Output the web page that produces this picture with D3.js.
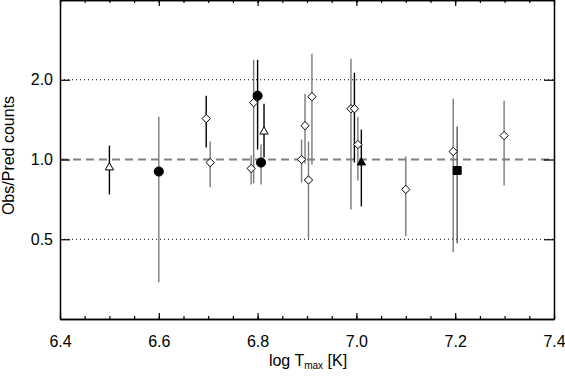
<!DOCTYPE html>
<html>
<head>
<meta charset="utf-8">
<script src="https://cdn.jsdelivr.net/npm/d3@7"></script>
<style>
  body { margin: 0; background: #fff; }
  svg { display: block; font-family: "Liberation Sans", Arial, sans-serif; }
</style>
</head>
<body>
<div id="chart"></div>
<script>
// log Tmax of each measurement
const logT = [6.50, 6.60, 6.696, 6.704, 6.787, 6.792, 6.80, 6.807, 6.813, 6.889, 6.896,
  6.903, 6.910, 6.989, 6.996, 7.003, 7.010, 7.100, 7.196, 7.204, 7.299];
// observed / predicted ratio
const ratio = [0.933, 0.901, 1.427, 0.974, 0.925, 1.639, 1.741, 0.974, 1.274, 1.000, 1.342,
  0.837, 1.726, 1.555, 1.555, 1.139, 0.974, 0.771, 1.072, 0.909, 1.231];
const errHi = [1.129, 1.451, 1.741, 1.169, 1.035, 2.378, 2.378, 1.139, 1.625, 1.189, 1.772,
  1.169, 2.505, 2.399, 2.125, 1.451, 1.297, 1.026, 1.696, 1.331, 1.667];
const errLo = [0.738, 0.344, 1.110, 0.785, 0.805, 0.812, 1.091, 0.805, 1.017, 0.819, 0.966,
  0.500, 0.958, 0.648, 0.974, 0.834, 0.665, 0.513, 0.447, 0.483, 0.798];
const symbol = ['triangle', 'circle', 'diamond', 'diamond', 'diamond', 'diamond', 'circle',
  'circle', 'triangle', 'diamond', 'diamond', 'diamond', 'diamond', 'diamond', 'diamond',
  'diamond', 'triFilled', 'diamond', 'diamond', 'square', 'diamond'];
const barTone = ['k', 'g', 'k', 'g', 'g', 'g', 'k', 'g', 'k', 'g', 'g',
  'g', 'g', 'g', 'k', 'g', 'k', 'g', 'g', 'd', 'g'];

const xTicks = [6.4, 6.6, 6.8, 7.0, 7.2, 7.4];
const yTicks = [0.5, 1.0, 2.0];

const width = 565, height = 378;
const margin = { top: 0, right: 11, bottom: 59, left: 60 };
const plotW = width - margin.left - margin.right;
const plotH = height - margin.top - margin.bottom;

const svg = d3.select('#chart').append('svg')
  .attr('width', width)
  .attr('height', height);

const g = svg.append('g')
  .attr('transform', `translate(${margin.left},${margin.top})`);

const x = d3.scaleLinear().domain([6.4, 7.4]).range([0, plotW]);
const y = d3.scaleLog().base(2).domain([0.25, 4]).range([plotH, 0]);

const minorX = d3.range(6.4, 7.4001, 0.05).map(v => +v.toFixed(2));

// reference lines
g.selectAll('line.dot')
  .data([0.5, 2.0])
  .enter().append('line')
  .attr('x1', 0).attr('x2', plotW)
  .attr('y1', d => y(d)).attr('y2', d => y(d))
  .attr('stroke', '#000')
  .attr('stroke-width', 1)
  .attr('stroke-dasharray', '1,3');

g.append('line')
  .attr('x1', 0).attr('x2', plotW)
  .attr('y1', y(1)).attr('y2', y(1))
  .attr('stroke', '#808080')
  .attr('stroke-width', 2)
  .attr('stroke-dasharray', '8,5');

// axes
const styleAxis = sel => {
  sel.select('.domain').attr('stroke', '#000').attr('stroke-width', 1.5);
  sel.selectAll('.tick line').attr('stroke', '#000').attr('stroke-width', 1.2);
  sel.selectAll('.tick text')
    .attr('fill', '#000')
    .style('font-size', '16px');
};

g.append('g')
  .attr('transform', `translate(0,${plotH})`)
  .call(d3.axisBottom(x).tickValues(minorX).tickSizeInner(-3).tickSizeOuter(0).tickFormat(''))
  .call(styleAxis);
g.append('g')
  .attr('transform', `translate(0,${plotH})`)
  .call(d3.axisBottom(x).tickValues(xTicks).tickSizeInner(-6).tickSizeOuter(0)
    .tickPadding(17).tickFormat(d3.format('.1f')))
  .call(styleAxis);

g.append('g')
  .call(d3.axisTop(x).tickValues(minorX).tickSizeInner(-3).tickSizeOuter(0).tickFormat(''))
  .call(styleAxis);
g.append('g')
  .call(d3.axisTop(x).tickValues(xTicks).tickSizeInner(-6).tickSizeOuter(0).tickFormat(''))
  .call(styleAxis);

g.append('g')
  .call(d3.axisLeft(y).tickValues(yTicks).tickSizeInner(-10).tickSizeOuter(0)
    .tickPadding(7).tickFormat(d3.format('.1f')))
  .call(styleAxis);

g.append('g')
  .attr('transform', `translate(${plotW},0)`)
  .call(d3.axisRight(y).tickValues(yTicks).tickSizeInner(-10).tickSizeOuter(0).tickFormat(''))
  .call(styleAxis);

// error bars
const tone = { k: '#000', g: '#7a7a7a', d: '#555' };
const pts = logT.map((t, i) => ({
  t, r: ratio[i], lo: errLo[i], hi: errHi[i], sym: symbol[i], c: tone[barTone[i]]
}));

g.selectAll('line.err')
  .data(pts)
  .enter().append('line')
  .attr('class', 'err')
  .attr('x1', d => x(d.t)).attr('x2', d => x(d.t))
  .attr('y1', d => y(d.hi)).attr('y2', d => y(d.lo))
  .attr('stroke', d => d.c)
  .attr('stroke-width', 1.4);

// markers
const shapes = {
  circle: { type: d3.symbolCircle, size: 66, fill: '#000' },
  square: { type: d3.symbolSquare, size: 64, fill: '#000' },
  diamond: { type: d3.symbolDiamond2, size: 44, fill: '#fff' },
  triangle: { type: d3.symbolTriangle2, size: 50, fill: '#fff' },
  triFilled: { type: d3.symbolTriangle2, size: 50, fill: '#000' }
};

g.selectAll('path.mark')
  .data(pts)
  .enter().append('path')
  .attr('class', 'mark')
  .attr('transform', d => `translate(${x(d.t)},${y(d.r)})`)
  .attr('d', d => d3.symbol().type(shapes[d.sym].type).size(shapes[d.sym].size)())
  .attr('fill', d => shapes[d.sym].fill)
  .attr('stroke', '#000')
  .attr('stroke-width', 1);

// axis titles
svg.append('text')
  .attr('transform', `translate(14,${margin.top + plotH / 2 - 4}) rotate(-90)`)
  .attr('text-anchor', 'middle')
  .style('font-size', '16px')
  .text('Obs/Pred counts');

const xt = svg.append('text')
  .attr('x', margin.left + plotW / 2 + 1)
  .attr('y', 366)
  .attr('text-anchor', 'middle')
  .style('font-size', '16px');
xt.append('tspan').text('log T');
xt.append('tspan').attr('dy', 3).style('font-size', '10px').text('max');
xt.append('tspan').attr('dy', -3).text(' [K]');
</script>
</body>
</html>
